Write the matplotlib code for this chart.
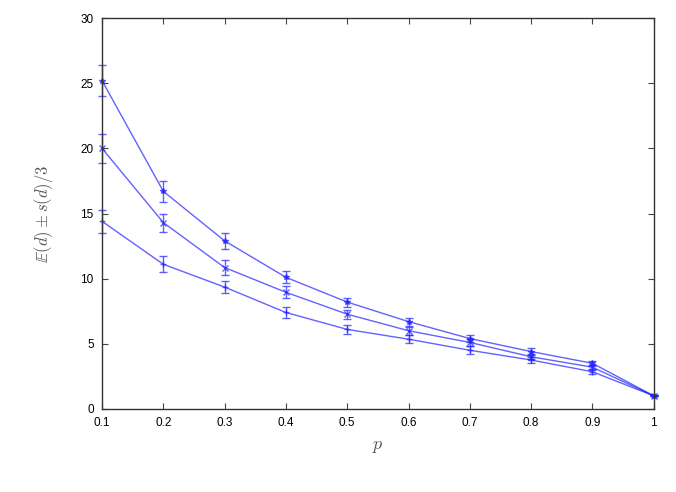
import matplotlib
matplotlib.use("Agg")
import matplotlib.pyplot as plt

plt.rcParams["mathtext.fontset"] = "cm"
plt.rcParams["font.family"] = ["Liberation Sans", "DejaVu Sans"]

p = [0.1, 0.2, 0.3, 0.4, 0.5, 0.6, 0.7, 0.8, 0.9, 1.0]

top = [25.2, 16.7, 12.9, 10.1, 8.2, 6.7, 5.4, 4.4, 3.5, 1.0]
top_err = [1.2, 0.8, 0.6, 0.45, 0.35, 0.3, 0.25, 0.25, 0.2, 0.05]
mid = [20.0, 14.3, 10.85, 8.95, 7.27, 6.0, 5.1, 4.0, 3.2, 1.0]
mid_err = [1.1, 0.7, 0.55, 0.45, 0.35, 0.3, 0.25, 0.2, 0.2, 0.05]
bot = [14.4, 11.1, 9.35, 7.4, 6.1, 5.35, 4.5, 3.75, 2.85, 1.0]
bot_err = [0.9, 0.6, 0.45, 0.4, 0.35, 0.3, 0.3, 0.25, 0.2, 0.05]

fig = plt.figure(figsize=(6.76, 4.92), dpi=100)
ax = fig.add_axes([0.151, 0.169, 0.816, 0.794])

blue = "#2020ff"
for y, e, mk in [(top, top_err, "*"), (mid, mid_err, "x"), (bot, bot_err, "+")]:
    line, caps, bars = ax.errorbar(p, y, yerr=e, color=blue, alpha=0.7, lw=1.0,
                                   elinewidth=1.0, capsize=3, capthick=1.0,
                                   marker=mk, ms=4, mew=1.0)
    for art in [line, *caps, *bars]:
        art.set_clip_on(False)

ax.set_xlim(0.1, 1.0)
ax.set_ylim(0, 30)
ax.set_xticks(p)
ax.set_xticklabels(["0.1", "0.2", "0.3", "0.4", "0.5", "0.6", "0.7", "0.8", "0.9", "1"])
ax.set_yticks([0, 5, 10, 15, 20, 25, 30])
ax.tick_params(direction="in", top=True, right=True, labelsize=8.5, length=4,
               color="#444444")
ax.tick_params(axis="x", pad=6)
ax.tick_params(axis="y", pad=6)
for s in ax.spines.values():
    s.set_color("#333333")
    s.set_linewidth(1.0)
ax.set_xlabel("$p$", fontsize=13, color="#555555", labelpad=6)
ax.set_ylabel(r"$\mathbb{E}(d) \pm s(d)/3$", fontsize=12, color="#555555", labelpad=18)

fig.savefig("out.png", dpi=100)
